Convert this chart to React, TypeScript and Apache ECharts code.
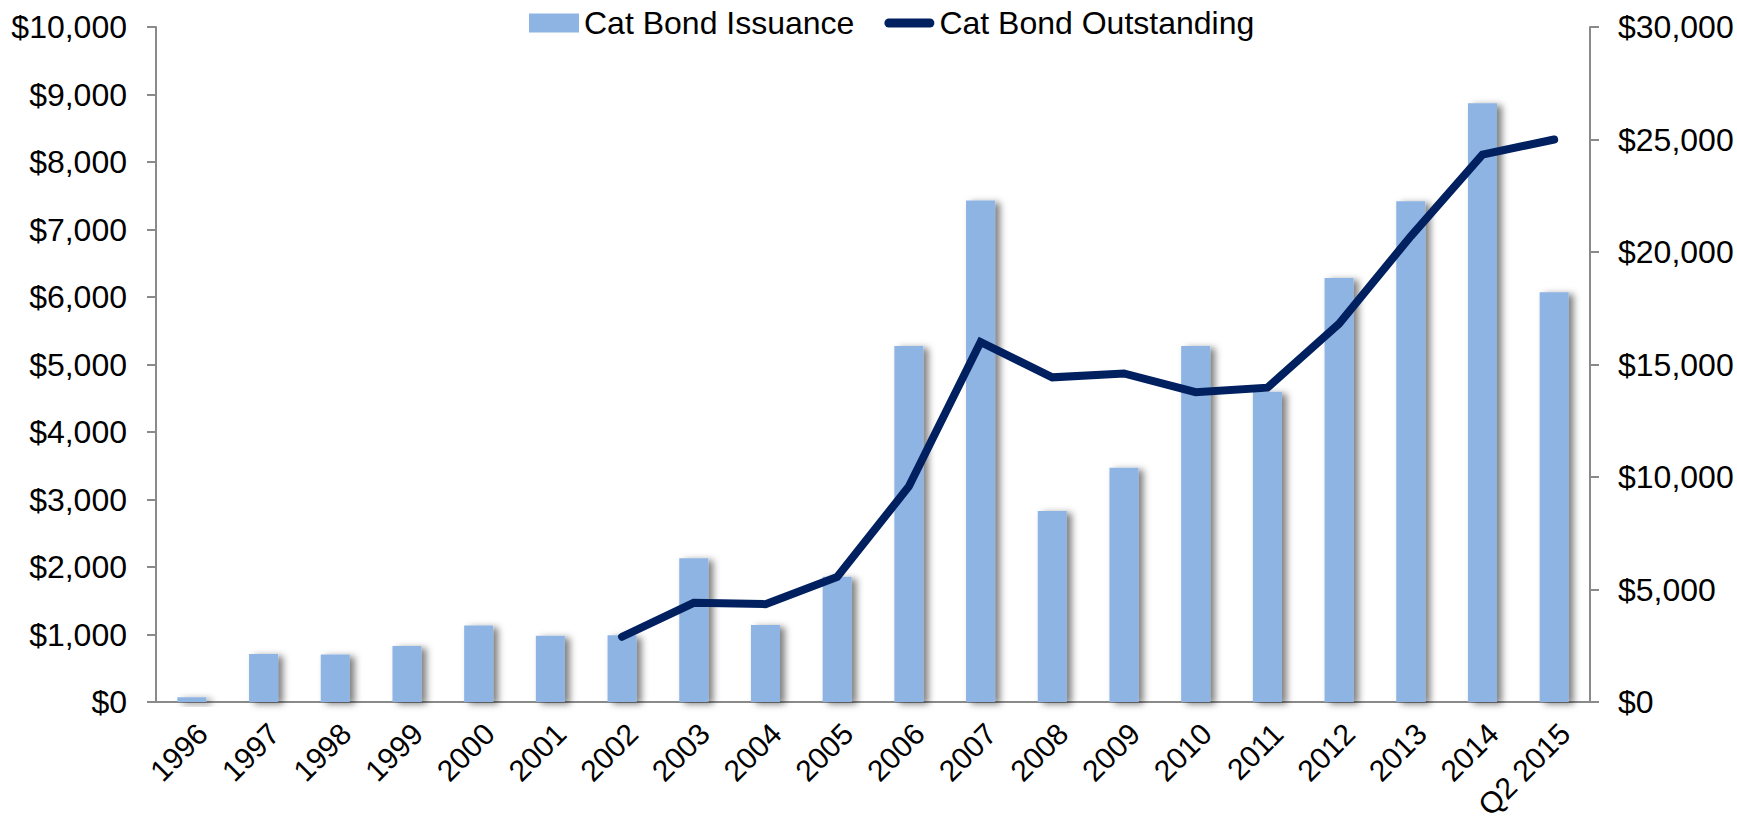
import React, { useEffect, useRef } from "react";
import * as echarts from "echarts";

// Catastrophe bond market, USD millions
const categories = [
  "1996", "1997", "1998", "1999", "2000", "2001", "2002", "2003", "2004", "2005",
  "2006", "2007", "2008", "2009", "2010", "2011", "2012", "2013", "2014", "Q2 2015",
];
const issuance = [
  70, 710, 705, 830, 1135, 980, 990, 2130, 1140, 1855,
  5275, 7430, 2830, 3470, 5275, 4595, 6280, 7420, 8870, 6070,
];
const outstanding: (number | null)[] = [
  null, null, null, null, null, null, 2900, 4410, 4350, 5560,
  9580, 16000, 14430, 14600, 13770, 13970, 16810, 20700, 24330, 25000,
];
const leftTicks = { min: 0, max: 10000, interval: 1000 };
const rightTicks = { min: 0, max: 30000, interval: 5000 };

const FONT = "'Liberation Sans', Arial, sans-serif";
const AXIS_GREY = "#8a8a8a";
const NAVY = "#002060";
const money = (v: number) => "$" + v.toLocaleString("en-US");

// thick rounded stroke used as the line series' legend key
const LINE_KEY = "path://M4.5,0 L45.5,0 A4.5,4.5 0 0 1 45.5,9 L4.5,9 A4.5,4.5 0 0 1 4.5,0 Z";

export default function App() {
  const ref = useRef<HTMLDivElement>(null);

  useEffect(() => {
    document.body.style.margin = "0";
    const chart = echarts.init(ref.current!, null, { renderer: "svg" });
    chart.setOption({
      animation: false,
      backgroundColor: "#ffffff",
      textStyle: { fontFamily: FONT, color: "#000" },
      legend: {
        left: 524,
        top: 2,
        itemWidth: 50,
        itemHeight: 19,
        itemGap: 30,
        textStyle: { fontFamily: FONT, fontSize: 32, color: "#000" },
        data: [
          {
            name: "Cat Bond Issuance",
            icon: "rect",
            itemStyle: { color: "#8eb4e3", shadowBlur: 0, shadowOffsetX: 0, shadowOffsetY: 0, shadowColor: "transparent" },
          },
          {
            name: "Cat Bond Outstanding",
            icon: LINE_KEY,
            itemStyle: { color: NAVY },
          },
        ],
      },
      grid: { left: 156, right: 147, top: 27, bottom: 123, containLabel: false },
      xAxis: {
        type: "category",
        data: categories,
        axisLine: { lineStyle: { color: AXIS_GREY, width: 2 } },
        axisTick: { show: false },
        axisLabel: {
          rotate: 45,
          margin: 16,
          interval: 0,
          verticalAlign: "top",
          fontFamily: FONT,
          fontSize: 30,
          color: "#000",
        },
      },
      yAxis: [
        {
          type: "value",
          ...leftTicks,
          position: "left",
          axisLine: { show: true, lineStyle: { color: AXIS_GREY, width: 2 } },
          axisTick: { show: true, length: 9, lineStyle: { color: AXIS_GREY, width: 2 } },
          splitLine: { show: false },
          axisLabel: {
            margin: 29,
            fontFamily: FONT,
            fontSize: 32,
            color: "#000",
            formatter: money,
          },
        },
        {
          type: "value",
          ...rightTicks,
          position: "right",
          axisLine: { show: true, lineStyle: { color: AXIS_GREY, width: 2 } },
          axisTick: { show: true, length: 9, lineStyle: { color: AXIS_GREY, width: 2 } },
          splitLine: { show: false },
          axisLabel: {
            margin: 28,
            fontFamily: FONT,
            fontSize: 32,
            color: "#000",
            formatter: money,
          },
        },
      ],
      series: [
        {
          name: "Cat Bond Issuance",
          type: "bar",
          yAxisIndex: 0,
          data: issuance,
          barWidth: 29,
          itemStyle: {
            color: "#8eb4e3",
            shadowColor: "rgba(0,0,0,0.5)",
            shadowBlur: 7,
            shadowOffsetX: 5,
            shadowOffsetY: 2,
          },
        },
        {
          name: "Cat Bond Outstanding",
          type: "line",
          yAxisIndex: 1,
          data: outstanding,
          symbol: "none",
          connectNulls: false,
          lineStyle: { color: NAVY, width: 8, cap: "round", join: "miter" },
          itemStyle: { color: NAVY },
          z: 3,
        },
      ],
    });
    return () => chart.dispose();
  }, []);

  return (
    <div
      ref={ref}
      style={{ position: "absolute", left: 0, top: 0, width: 1737, height: 825 }}
    />
  );
}
